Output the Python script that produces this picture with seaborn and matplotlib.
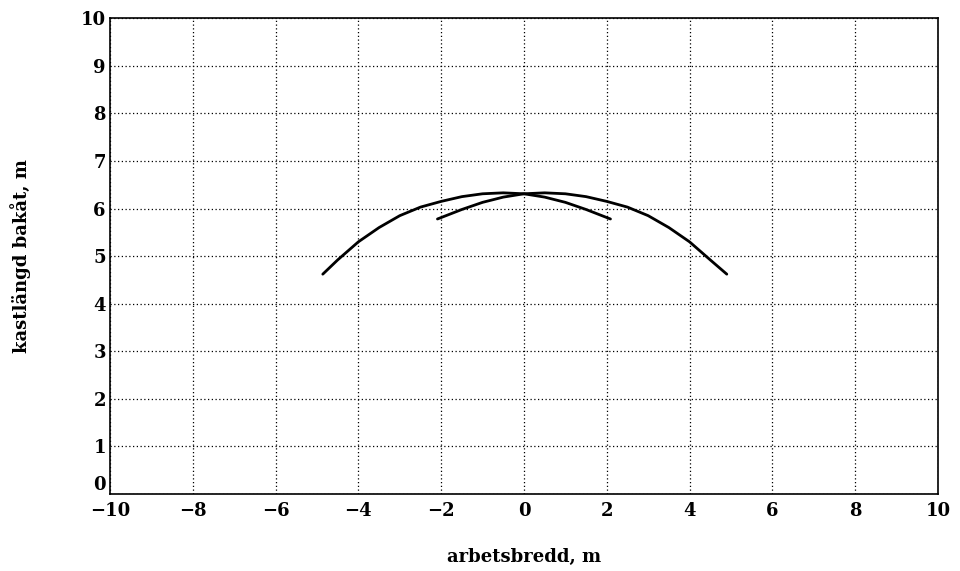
import seaborn as sns
import matplotlib.pyplot as plt
import pandas as pd

# curve spreading to the left
left_x = [-4.86, -4.5, -4.0, -3.5, -3.0, -2.5, -2.0, -1.5, -1.0, -0.5, 0.0, 0.5, 1.0, 1.5, 2.09]
left_y = [4.62, 4.92, 5.30, 5.60, 5.85, 6.03, 6.15, 6.25, 6.31, 6.33, 6.31, 6.24, 6.13, 5.98, 5.78]

# curve spreading to the right
right_x = [-2.09, -1.5, -1.0, -0.5, 0.0, 0.5, 1.0, 1.5, 2.0, 2.5, 3.0, 3.5, 4.0, 4.5, 4.90]
right_y = [5.78, 5.98, 6.13, 6.24, 6.31, 6.33, 6.31, 6.25, 6.15, 6.03, 5.85, 5.60, 5.30, 4.92, 4.62]

x_ticks = [-10, -8, -6, -4, -2, 0, 2, 4, 6, 8, 10]
y_ticks = [0, 1, 2, 3, 4, 5, 6, 7, 8, 9, 10]

df = pd.concat([
    pd.DataFrame({"x": left_x, "y": left_y, "kurva": "vänster"}),
    pd.DataFrame({"x": right_x, "y": right_y, "kurva": "höger"}),
])

sns.set_theme(style="white")
plt.rcParams["font.family"] = ["DejaVu Serif", "DejaVu Sans"]
plt.rcParams["font.weight"] = "bold"
plt.rcParams["text.color"] = "black"
plt.rcParams["axes.labelcolor"] = "black"
plt.rcParams["xtick.color"] = "black"
plt.rcParams["ytick.color"] = "black"

fig = plt.figure(figsize=(9.6, 5.71), dpi=100)
ax = fig.add_axes([0.1146, 0.135, 0.8624, 0.833])

sns.lineplot(data=df, x="x", y="y", hue="kurva", palette=["black", "black"],
             sort=False, legend=False, linewidth=2.0, ax=ax)

ax.set_xlim(-10, 10)
ax.set_ylim(0, 10)
ax.set_xticks(x_ticks)
ax.set_yticks(y_ticks)
ax.set_xticklabels([str(t).replace("-", "\u2212") for t in x_ticks], fontsize=13, fontweight="bold")
ax.set_yticklabels([str(t) for t in y_ticks], fontsize=13, fontweight="bold")
ax.tick_params(direction="in", length=4, color="black")
ax.tick_params(axis="x", pad=6)
ax.tick_params(axis="y", pad=3)
# the 0 on the y axis sits just above the corner, as in the original
ax.get_yticklabels()[0].set_verticalalignment("bottom")
ax.grid(True, linestyle=(0, (1, 2)), color="black", linewidth=0.9)

for s in ax.spines.values():
    s.set_color("black")
    s.set_linewidth(1.2)

ax.set_xlabel("arbetsbredd, m", fontsize=13, fontweight="bold", labelpad=20)
ax.set_ylabel("kastlängd bakåt, m", fontsize=13, fontweight="bold", labelpad=36)

plt.savefig("out.png", dpi=100)
